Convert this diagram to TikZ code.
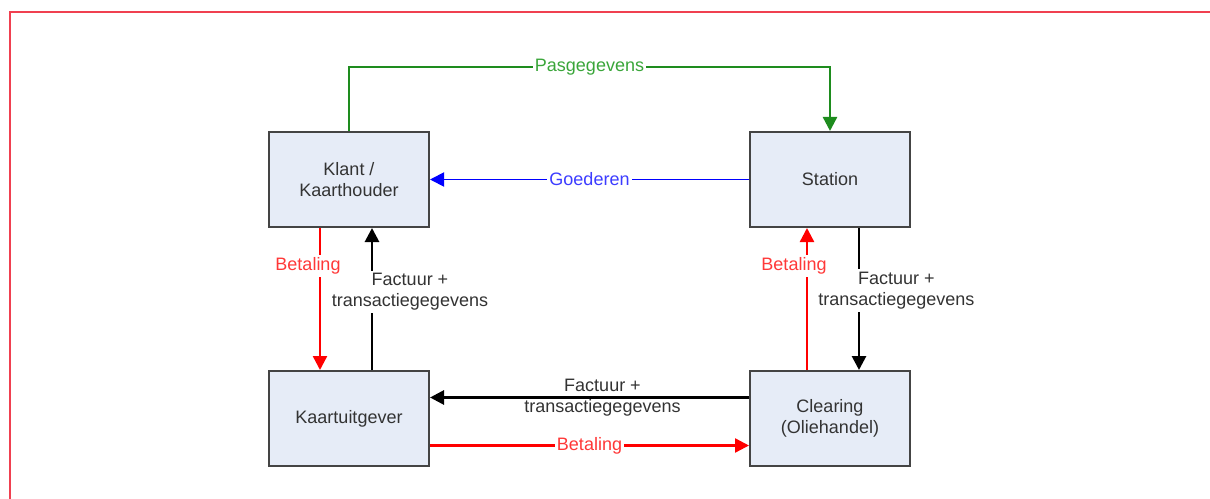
\documentclass[tikz,border=0pt]{standalone}
\usepackage{fontspec}
\setmainfont{Liberation Sans}
\usetikzlibrary{arrows.meta,positioning}

\definecolor{boxfill}{HTML}{E6ECF7}
\definecolor{boxline}{HTML}{444444}
\definecolor{txt}{HTML}{333333}
\definecolor{pasgreen}{HTML}{1E8C1E}
\definecolor{paslabel}{HTML}{3AA63A}
\definecolor{paylabel}{HTML}{FF3838}
\definecolor{goodlabel}{HTML}{3C3CFF}
\definecolor{frame}{HTML}{F04050}

\tikzset{
    party/.style={draw=boxline, fill=boxfill, line width=1.5pt, text=txt,
        minimum width=120pt, minimum height=71.25pt, align=center},
    lbl/.style={fill=white, inner xsep=1.5pt, inner ysep=2pt, align=center},
    pay/.style={red, line width=1.8pt},
    bill/.style={black, line width=2.1pt},
    goods/.style={blue, line width=1.4pt},
    pas/.style={pasgreen, line width=1.8pt}
}

\begin{document}
\begin{tikzpicture}[x=0.75pt,y=-0.75pt,->,>={Triangle[length=10.5pt,width=10.5pt]},
        node distance=106.5pt and 239.25pt,font=\fontsize{13.5}{16}\selectfont]
        \useasboundingbox (0,0) rectangle (1210,499);
        \draw[-,frame,line width=0.8pt] (10,499) -- (10,12) -- (1210,12);

        \node[party] (klant) at (349,179.5)
            {Klant /\\Kaarthouder};

        \node[party] (station) [right=of klant]
            {Station};

        \node[party] (kaart) [below=of klant]
            {Kaartuitgever};

        \node[party] (clearing) [below=of station]
            {Clearing\\(Oliehandel)};

        \draw[pas] (klant.north) -- ++(0,-64) -| node[lbl,pos=0.25,text=paslabel] {Pasgegevens} (station.north);

        \path
        (station.west)                  edge[goods] node[lbl,text=goodlabel] {Goederen} (klant.east)
        ([xshift=17.25pt]kaart.north)   edge[bill]  node[lbl,pos=0.55,xshift=28.5pt,text=txt] {Factuur +\\transactiegegevens} ([xshift=17.25pt]klant.south)
        ([xshift=21.75pt]station.south) edge[bill]  node[lbl,pos=0.44,xshift=28pt,text=txt] {Factuur +\\transactiegegevens} ([xshift=21.75pt]clearing.north)
        ([yshift=15.75pt]clearing.west) edge[bill]  node[align=center,xshift=9.75pt,text=txt] {Factuur +\\transactiegegevens} ([yshift=15.75pt]kaart.east)
        ([xshift=-21.75pt]klant.south)  edge[pay]   node[lbl,pos=0.27,xshift=-9pt,text=paylabel] {Betaling} ([xshift=-21.75pt]kaart.north)
        ([xshift=-17.25pt]clearing.north) edge[pay] node[lbl,pos=0.73,xshift=-9.75pt,text=paylabel] {Betaling} ([xshift=-17.25pt]station.south)
        ([yshift=-20.25pt]kaart.east)   edge[pay]   node[lbl,text=paylabel] {Betaling} ([yshift=-20.25pt]clearing.west)
        ;
    \end{tikzpicture}
\end{document}
